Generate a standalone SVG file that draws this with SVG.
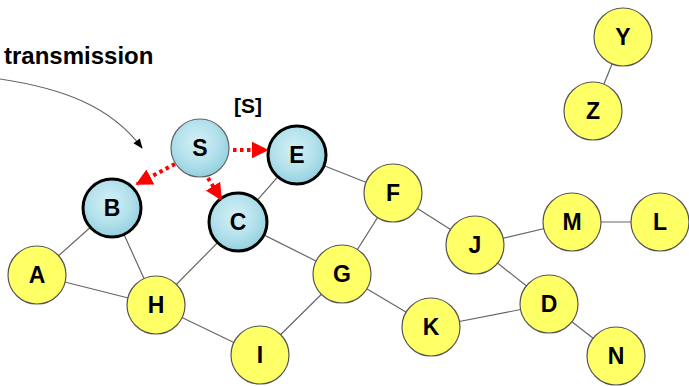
<svg xmlns="http://www.w3.org/2000/svg" width="689" height="386" viewBox="0 0 689 386">
<defs>
<radialGradient id="water" cx="45%" cy="40%" r="60%">
<stop offset="0" stop-color="#d4f0f6"/>
<stop offset="0.6" stop-color="#b3e1ec"/>
<stop offset="1" stop-color="#94d0e0"/>
</radialGradient>
<marker id="red" viewBox="0 0 10 10" refX="9" refY="5" markerWidth="4.2" markerHeight="4.2" orient="auto" markerUnits="strokeWidth">
<path d="M0,0 L10,5 L0,10 z" fill="#ff0000"/>
</marker>
<marker id="blk" viewBox="0 0 10 10" refX="9" refY="5" markerWidth="12" markerHeight="10" orient="auto" markerUnits="userSpaceOnUse">
<path d="M0,1 L10,5 L0,9 z" fill="#000"/>
</marker>
</defs>
<style>
.edge{stroke:#666;stroke-width:1.2;fill:none}
.y{fill:#ffff66;stroke:#555;stroke-width:1.2}
.w{fill:url(#water);stroke:#000;stroke-width:3}
.ws{fill:url(#water);stroke:#666;stroke-width:1.2}
.lbl{font-family:"Liberation Sans",Arial,sans-serif;font-weight:bold;font-size:23px;text-anchor:middle;fill:#000}
.ra{stroke:#ff0000;stroke-width:4;stroke-dasharray:3.5 3.5;fill:none;marker-end:url(#red)}
</style>
<rect width="689" height="386" fill="#fff"/>
<text x="4" y="64" font-family="Liberation Sans,Arial,sans-serif" font-weight="bold" font-size="24" fill="#000">transmission</text>
<text x="248" y="113" font-family="Liberation Sans,Arial,sans-serif" font-weight="bold" font-size="21" fill="#000" text-anchor="middle">[S]</text>
<g id="connectors">
<path class="edge" d="M0,79 C60,88 110,105 142,148" stroke="#333" marker-end="url(#blk)"/>
<line class="edge" x1="112" y1="208" x2="37" y2="275"/>
<line class="edge" x1="112" y1="208" x2="156" y2="305"/>
<line class="edge" x1="37" y1="275" x2="156" y2="305"/>
<line class="edge" x1="238" y1="222" x2="156" y2="305"/>
<line class="edge" x1="238" y1="222" x2="342" y2="274"/>
<line class="edge" x1="297" y1="155" x2="238" y2="222"/>
<line class="edge" x1="297" y1="155" x2="393" y2="193"/>
<line class="edge" x1="393" y1="193" x2="342" y2="274"/>
<line class="edge" x1="393" y1="193" x2="475" y2="245"/>
<line class="edge" x1="342" y1="274" x2="260" y2="355"/>
<line class="edge" x1="156" y1="305" x2="260" y2="355"/>
<line class="edge" x1="342" y1="274" x2="431" y2="327"/>
<line class="edge" x1="475" y1="245" x2="572" y2="222"/>
<line class="edge" x1="572" y1="222" x2="660" y2="222"/>
<line class="edge" x1="475" y1="245" x2="549" y2="304"/>
<line class="edge" x1="549" y1="304" x2="431" y2="327"/>
<line class="edge" x1="549" y1="304" x2="616" y2="356"/>
<line class="edge" x1="623" y1="37" x2="593" y2="111"/>
</g>
<g id="node-S"><circle class="ws" cx="200" cy="148" r="29"/><text class="lbl" x="200" y="156">S</text></g>
<g id="node-E"><circle class="w" cx="297" cy="155" r="29"/><text class="lbl" x="297" y="163">E</text></g>
<g id="node-B"><circle class="w" cx="112" cy="208" r="29"/><text class="lbl" x="112" y="216">B</text></g>
<g id="node-C"><circle class="w" cx="238" cy="222" r="29"/><text class="lbl" x="238" y="230">C</text></g>
<g id="node-A"><circle class="y" cx="37" cy="275" r="29"/><text class="lbl" x="37" y="283">A</text></g>
<g id="node-H"><circle class="y" cx="156" cy="305" r="29"/><text class="lbl" x="156" y="313">H</text></g>
<g id="node-I"><circle class="y" cx="260" cy="355" r="29"/><text class="lbl" x="260" y="363">I</text></g>
<g id="node-G"><circle class="y" cx="342" cy="274" r="29"/><text class="lbl" x="342" y="282">G</text></g>
<g id="node-F"><circle class="y" cx="393" cy="193" r="29"/><text class="lbl" x="393" y="201">F</text></g>
<g id="node-J"><circle class="y" cx="475" cy="245" r="29"/><text class="lbl" x="475" y="253">J</text></g>
<g id="node-M"><circle class="y" cx="572" cy="222" r="29"/><text class="lbl" x="572" y="230">M</text></g>
<g id="node-L"><circle class="y" cx="660" cy="222" r="29"/><text class="lbl" x="660" y="230">L</text></g>
<g id="node-D"><circle class="y" cx="549" cy="304" r="29"/><text class="lbl" x="549" y="312">D</text></g>
<g id="node-K"><circle class="y" cx="431" cy="327" r="29"/><text class="lbl" x="431" y="335">K</text></g>
<g id="node-N"><circle class="y" cx="616" cy="356" r="29"/><text class="lbl" x="616" y="364">N</text></g>
<g id="node-Y"><circle class="y" cx="623" cy="37" r="29"/><text class="lbl" x="623" y="45">Y</text></g>
<g id="node-Z"><circle class="y" cx="593" cy="111" r="29"/><text class="lbl" x="593" y="119">Z</text></g>
<g id="arrows">
<path class="ra" d="M233,150 L267,150"/>
<path class="ra" d="M175,164 L137,184"/>
<path class="ra" d="M208,178 L221,199"/>
</g>
</svg>
